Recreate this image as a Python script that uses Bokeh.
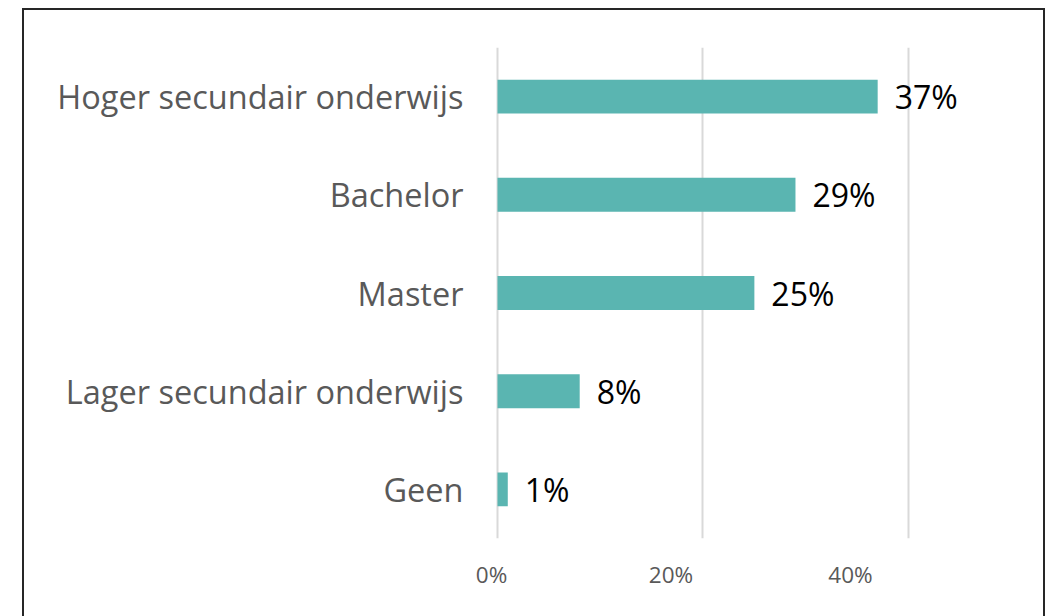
from bokeh.plotting import figure
from bokeh.models import (FactorRange, Range1d, LinearAxis, FixedTicker, Grid,
                          NumeralTickFormatter, ColumnDataSource, InlineStyleSheet)
from bokeh.core.properties import value
from bokeh.embed import file_html
from bokeh.resources import INLINE

categories = ["Hoger secundair onderwijs", "Bachelor", "Master",
              "Lager secundair onderwijs", "Geen"]
shares = [0.37, 0.29, 0.25, 0.08, 0.01]
labels = [f"{round(v * 100)}%" for v in shares]
tick_values = [0, 0.2, 0.4]

FONT = "Open Sans"
GRAY = "#595959"
BAR = "#5AB5B1"

src = ColumnDataSource(dict(cat=categories, v=shares, lab=labels))

p = figure(width=1048, height=616,
           y_range=FactorRange(*reversed(categories)),
           x_range=Range1d(-0.016545, 0.52847),
           output_backend="svg", toolbar_location=None,
           x_axis_location=None,
           min_border_left=480, min_border_right=8,
           min_border_top=47, min_border_bottom=78)
p.outline_line_color = None
p.background_fill_color = "white"
p.border_fill_color = "white"

# remove default grids, add vertical gridlines at the tick values
p.center = [r for r in p.center if not isinstance(r, Grid)]
grid = Grid(dimension=0, ticker=FixedTicker(ticks=tick_values),
            grid_line_color="#D9D9D9", grid_line_width=2)
p.add_layout(grid)

# tick-label axis (labels sit slightly offset, as in the original picture)
p.extra_x_ranges = {"ticks": Range1d(-0.012256, 0.61170)}
xax = LinearAxis(x_range_name="ticks", ticker=FixedTicker(ticks=tick_values),
                 formatter=NumeralTickFormatter(format="0%"))
xax.axis_line_color = None
xax.major_tick_line_color = None
xax.minor_tick_line_color = None
xax.major_tick_in = 0
xax.major_tick_out = 0
xax.major_label_text_font = FONT
xax.major_label_text_font_size = "22.5px"
xax.major_label_text_color = GRAY
xax.major_label_standoff = 20
p.add_layout(xax, "below")

yax = p.yaxis[0]
yax.axis_line_color = None
yax.major_tick_line_color = None
yax.minor_tick_line_color = None
yax.major_tick_in = 0
yax.major_tick_out = 0
yax.major_label_text_font = FONT
yax.major_label_text_font_size = "32.5px"
yax.major_label_text_color = GRAY
yax.major_label_standoff = 17

p.hbar(y="cat", right="v", left=0, height=0.345, source=src,
       fill_color=BAR, line_color=None)

p.text(x="v", y="cat", text="lab", source=src, x_offset=17,
       text_baseline="middle", text_align="left",
       text_font=value(FONT), text_font_size="32px", text_color="black")

# chart-area border (bottom edge lies outside the visible window)
p.styles = {"position": "relative"}
p.stylesheets = [InlineStyleSheet(css="""
:host::after {
  content: "";
  position: absolute;
  left: 22px; top: 8px; width: 1023px; bottom: 0px;
  border: 2px solid #262626; border-bottom: none;
  box-sizing: border-box;
  pointer-events: none;
  z-index: 10;
}
""")]

open("out.html", "w").write(file_html(p, INLINE))
